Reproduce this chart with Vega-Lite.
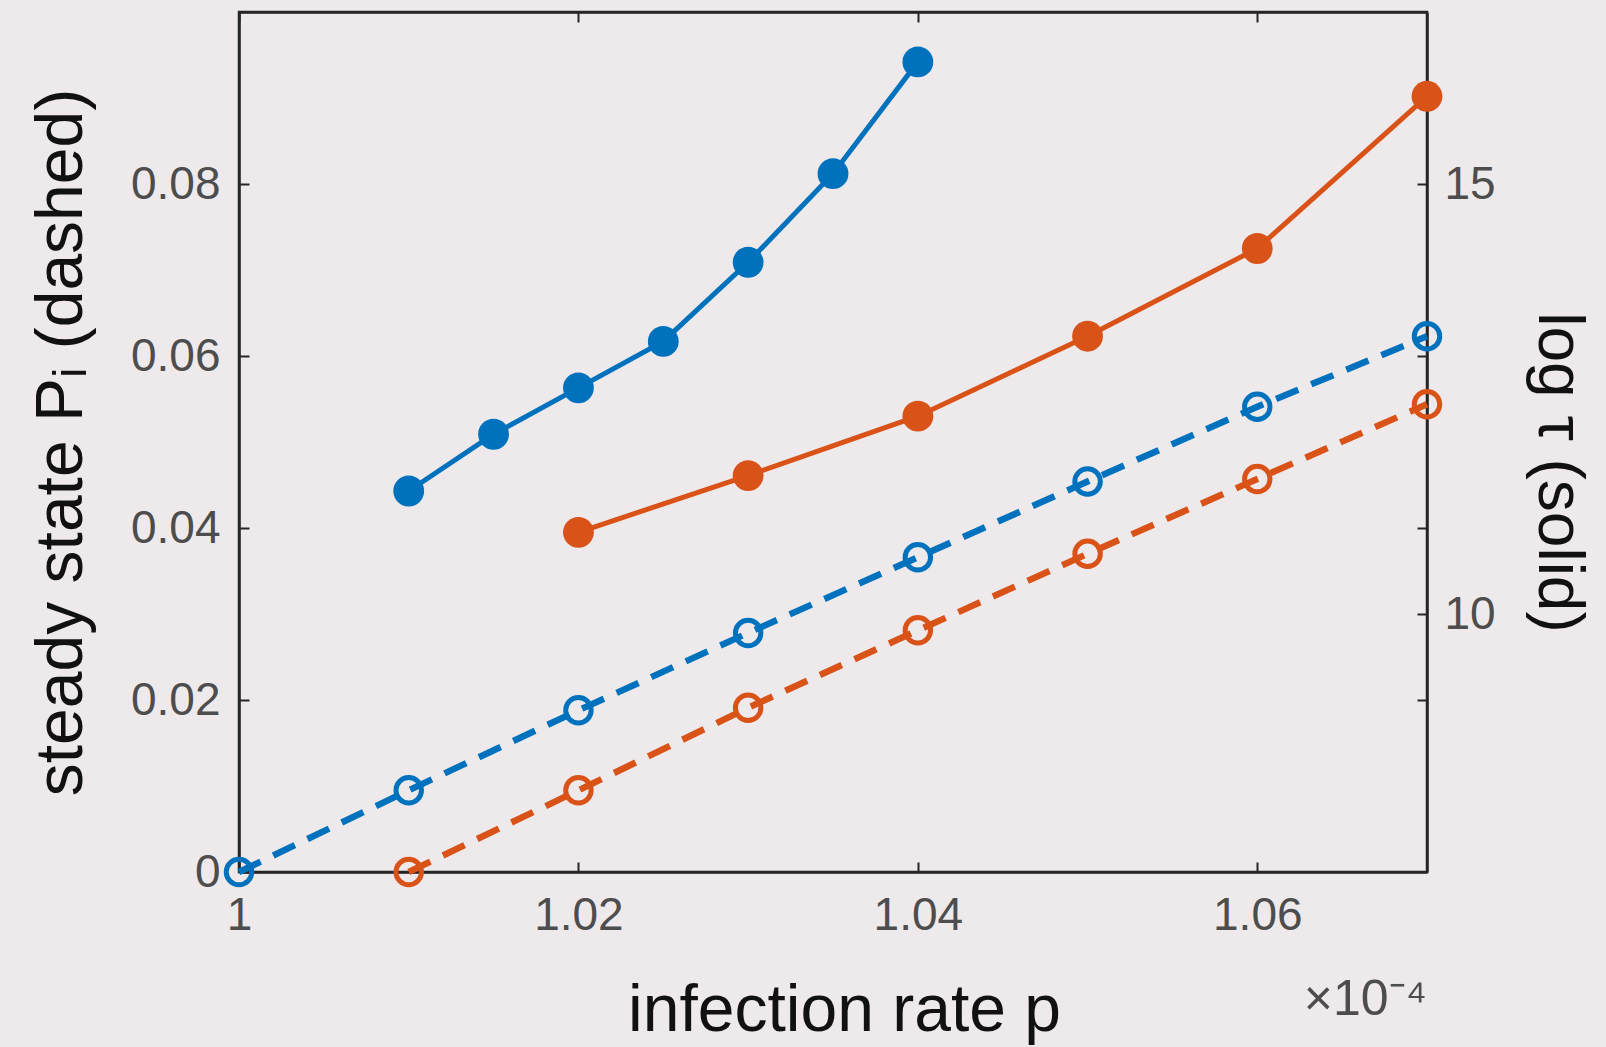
{
  "$schema": "https://vega.github.io/schema/vega-lite/v6.json",
  "width": 1188,
  "height": 860,
  "autosize": {"type": "none"},
  "padding": {"left": 239, "top": 12, "right": 179, "bottom": 175},
  "background": "#eeeaec",
  "config": {
    "view": {"stroke": "#262626", "strokeWidth": 2.5},
    "font": "Liberation Sans",
    "axis": {
      "grid": false,
      "domainColor": "#262626",
      "domainWidth": 2.5,
      "tickColor": "#262626",
      "tickWidth": 2,
      "tickSize": -10,
      "labelFlush": false,
      "labelColor": "#4d4d4d",
      "labelFont": "Liberation Sans",
      "labelFontSize": 46,
      "titleFont": "Liberation Sans",
      "titleFontSize": 64,
      "titleFontWeight": "normal",
      "titleColor": "#111111"
    }
  },
  "datasets": {
    "dashed": [
      {"p": 1.00, "curve": "A", "PI": 0.0},
      {"p": 1.01, "curve": "A", "PI": 0.0095},
      {"p": 1.02, "curve": "A", "PI": 0.0188},
      {"p": 1.03, "curve": "A", "PI": 0.0278},
      {"p": 1.04, "curve": "A", "PI": 0.0366},
      {"p": 1.05, "curve": "A", "PI": 0.0454},
      {"p": 1.06, "curve": "A", "PI": 0.0541},
      {"p": 1.07, "curve": "A", "PI": 0.0623},
      {"p": 1.01, "curve": "B", "PI": 0.0},
      {"p": 1.02, "curve": "B", "PI": 0.0095},
      {"p": 1.03, "curve": "B", "PI": 0.0191},
      {"p": 1.04, "curve": "B", "PI": 0.0281},
      {"p": 1.05, "curve": "B", "PI": 0.0370},
      {"p": 1.06, "curve": "B", "PI": 0.0457},
      {"p": 1.07, "curve": "B", "PI": 0.0544}
    ],
    "solid": [
      {"p": 1.01, "curve": "A", "logtau": 11.43},
      {"p": 1.015, "curve": "A", "logtau": 12.09},
      {"p": 1.02, "curve": "A", "logtau": 12.63},
      {"p": 1.025, "curve": "A", "logtau": 13.17},
      {"p": 1.03, "curve": "A", "logtau": 14.09},
      {"p": 1.035, "curve": "A", "logtau": 15.12},
      {"p": 1.04, "curve": "A", "logtau": 16.42},
      {"p": 1.02, "curve": "B", "logtau": 10.95},
      {"p": 1.03, "curve": "B", "logtau": 11.61},
      {"p": 1.04, "curve": "B", "logtau": 12.30},
      {"p": 1.05, "curve": "B", "logtau": 13.23},
      {"p": 1.06, "curve": "B", "logtau": 14.25},
      {"p": 1.07, "curve": "B", "logtau": 16.02}
    ]
  },
  "title": {
    "text": "×10⁻⁴",
    "orient": "bottom",
    "anchor": "end",
    "frame": "group",
    "fontSize": 50,
    "fontWeight": "normal",
    "font": "Liberation Sans",
    "color": "#4d4d4d",
    "dy": -72
  },
  "layer": [
    {
      "data": {"name": "dashed"},
      "encoding": {
        "x": {
          "field": "p",
          "type": "quantitative",
          "scale": {"domain": [1, 1.07], "nice": false, "zero": false},
          "axis": {
            "orient": "bottom",
            "values": [1, 1.02, 1.04, 1.06],
            "format": "~g",
            "labelPadding": 31,
            "title": "infection rate p",
            "titlePadding": 40,
            "titleFontSize": 66,
            "titleX": 605
          }
        },
        "y": {
          "field": "PI",
          "type": "quantitative",
          "scale": {"domain": [0, 0.1], "nice": false},
          "axis": {
            "orient": "left",
            "values": [0, 0.02, 0.04, 0.06, 0.08],
            "format": "~g",
            "labelPadding": 29,
            "title": "steady state Pᵢ (dashed)",
            "titleFontSize": 66,
            "titlePadding": 35
          }
        },
        "color": {
          "field": "curve",
          "type": "nominal",
          "scale": {"domain": ["A", "B"], "range": ["#0072bd", "#d95319"]},
          "legend": null
        }
      },
      "layer": [
        {"mark": {"type": "line", "strokeWidth": 6.5, "strokeDash": [24, 14]}},
        {"mark": {"type": "point", "shape": "circle", "filled": false, "strokeWidth": 5, "size": 650, "opacity": 1}}
      ]
    },
    {
      "data": {"name": "solid"},
      "encoding": {
        "x": {
          "field": "p",
          "type": "quantitative",
          "axis": {
            "orient": "top",
            "values": [1, 1.02, 1.04, 1.06],
            "labels": false,
            "title": null
          }
        },
        "y": {
          "field": "logtau",
          "type": "quantitative",
          "scale": {"domain": [7, 17], "nice": false, "zero": false},
          "axis": {
            "orient": "right",
            "values": [9, 10, 11, 13, 15],
            "labelExpr": "(datum.value == 10 || datum.value == 15) ? datum.label : ''",
            "labelPadding": 27,
            "title": "log τ (solid)",
            "titlePadding": 30,
            "titleY": 460
          }
        },
        "color": {
          "field": "curve",
          "type": "nominal",
          "scale": {"domain": ["A", "B"], "range": ["#0072bd", "#d95319"]},
          "legend": null
        }
      },
      "layer": [
        {"mark": {"type": "line", "strokeWidth": 5}},
        {"mark": {"type": "point", "shape": "circle", "filled": true, "size": 950, "opacity": 1}}
      ]
    }
  ],
  "resolve": {"scale": {"y": "independent"}, "axis": {"x": "independent"}}
}
